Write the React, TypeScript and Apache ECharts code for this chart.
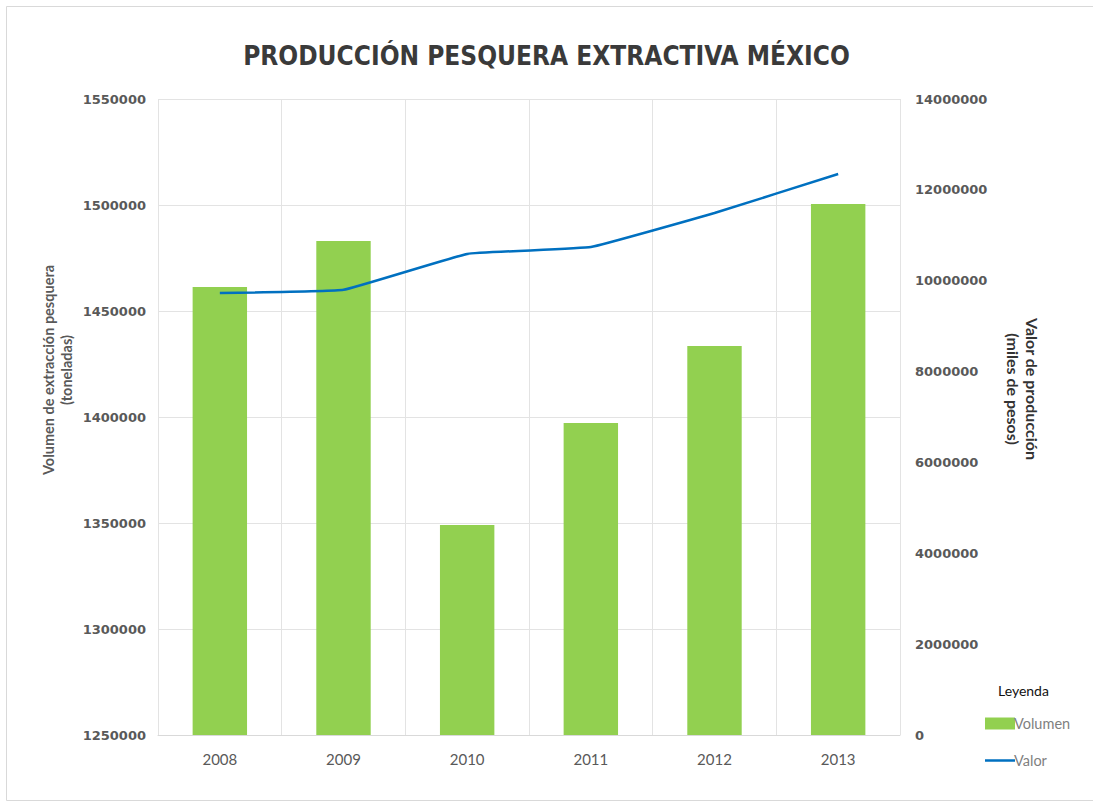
import React, { useEffect, useRef } from "react";
import * as echarts from "echarts";

const years = ["2008", "2009", "2010", "2011", "2012", "2013"];
const volumen = [1461300, 1483000, 1349000, 1397200, 1433500, 1500500];
const valor = [9730000, 9800000, 10590000, 10740000, 11490000, 12350000];

const labelFont = "Lato, 'DejaVu Sans', sans-serif";
const tickFont = "'DejaVu Sans', sans-serif";

export default function App() {
  const ref = useRef<HTMLDivElement>(null);
  useEffect(() => {
    document.body.style.margin = "0";
    const chart = echarts.init(ref.current!, undefined, { renderer: "svg" });
    chart.setOption({
      animation: false,
      backgroundColor: "#ffffff",
      title: {
        text: "PRODUCCIÓN PESQUERA EXTRACTIVA MÉXICO",
        left: "center",
        top: 38,
        textStyle: {
          fontFamily: "'DejaVu Sans Condensed', 'DejaVu Sans', sans-serif",
          fontWeight: "bold",
          fontSize: 26,
          color: "#3a3a3a",
        },
      },
      grid: { left: 158, right: 193, top: 99, bottom: 67 },
      legend: {
        orient: "vertical",
        left: 980,
        top: 711,
        itemWidth: 30,
        itemHeight: 12,
        itemGap: 22,
        textStyle: { color: "#7f7f7f", fontSize: 14.5, fontFamily: labelFont, padding: [0, 0, 0, -6] },
        data: [
          { name: "Volumen", icon: "rect" },
          { name: "Valor", icon: "path://M0,0 L30,0 L30,2.5 L0,2.5 Z" },
        ],
      },
      graphic: [
        {
          type: "rect",
          shape: { x: 6.5, y: 6.5, width: 1100, height: 794 },
          style: { fill: "none", stroke: "#d9d9d9", lineWidth: 1 },
          silent: true,
        },
        {
          type: "text",
          left: 998,
          top: 683,
          style: { text: "Leyenda", fill: "#111", font: `14px ${labelFont}` },
        },
        {
          type: "text",
          x: 57,
          y: 370,
          rotation: Math.PI / 2,
          style: {
            text: "Volumen de extracción pesquera\n(toneladas)",
            fill: "#595959",
            font: `bold 14.5px ${labelFont}`,
            align: "center",
            verticalAlign: "middle",
            lineHeight: 18,
          },
        },
        {
          type: "text",
          x: 1023,
          y: 389,
          rotation: -Math.PI / 2,
          style: {
            text: "Valor de producción\n(miles de pesos)",
            fill: "#333",
            font: `bold 16px ${labelFont}`,
            align: "center",
            verticalAlign: "middle",
            lineHeight: 19,
          },
        },
      ],
      xAxis: {
        type: "category",
        data: years,
        axisLine: { show: true, lineStyle: { color: "#d9d9d9" } },
        axisTick: { show: false },
        splitLine: { show: true, lineStyle: { color: "#e3e3e3" } },
        axisLabel: { color: "#595959", fontSize: 15, fontFamily: labelFont, margin: 16 },
      },
      yAxis: [
        {
          type: "value",
          min: 1250000,
          max: 1550000,
          interval: 50000,
          axisLine: { show: false },
          axisTick: { show: false },
          splitLine: { show: true, lineStyle: { color: "#e3e3e3" } },
          axisLabel: {
            color: "#595959",
            fontSize: 13,
            fontFamily: tickFont,
            fontWeight: "bold",
            margin: 12,
            formatter: (v: number) => String(v),
          },
        },
        {
          type: "value",
          min: 0,
          max: 14000000,
          interval: 2000000,
          axisLine: { show: false },
          axisTick: { show: false },
          splitLine: { show: false },
          axisLabel: {
            color: "#595959",
            fontSize: 13,
            fontFamily: tickFont,
            fontWeight: "bold",
            margin: 15,
            formatter: (v: number) => String(v),
          },
        },
      ],
      series: [
        {
          name: "Volumen",
          type: "bar",
          data: volumen,
          yAxisIndex: 0,
          barWidth: "44%",
          itemStyle: { color: "#92D050" },
        },
        {
          name: "Valor",
          type: "line",
          data: valor,
          yAxisIndex: 1,
          smooth: 0.08,
          symbol: "none",
          lineStyle: { color: "#0070C0", width: 2.5 },
          itemStyle: { color: "#0070C0" },
        },
      ],
    });
    return () => chart.dispose();
  }, []);
  return (
    <div
      ref={ref}
      style={{ position: "absolute", left: 0, top: 0, width: 1093, height: 802 }}
    />
  );
}
